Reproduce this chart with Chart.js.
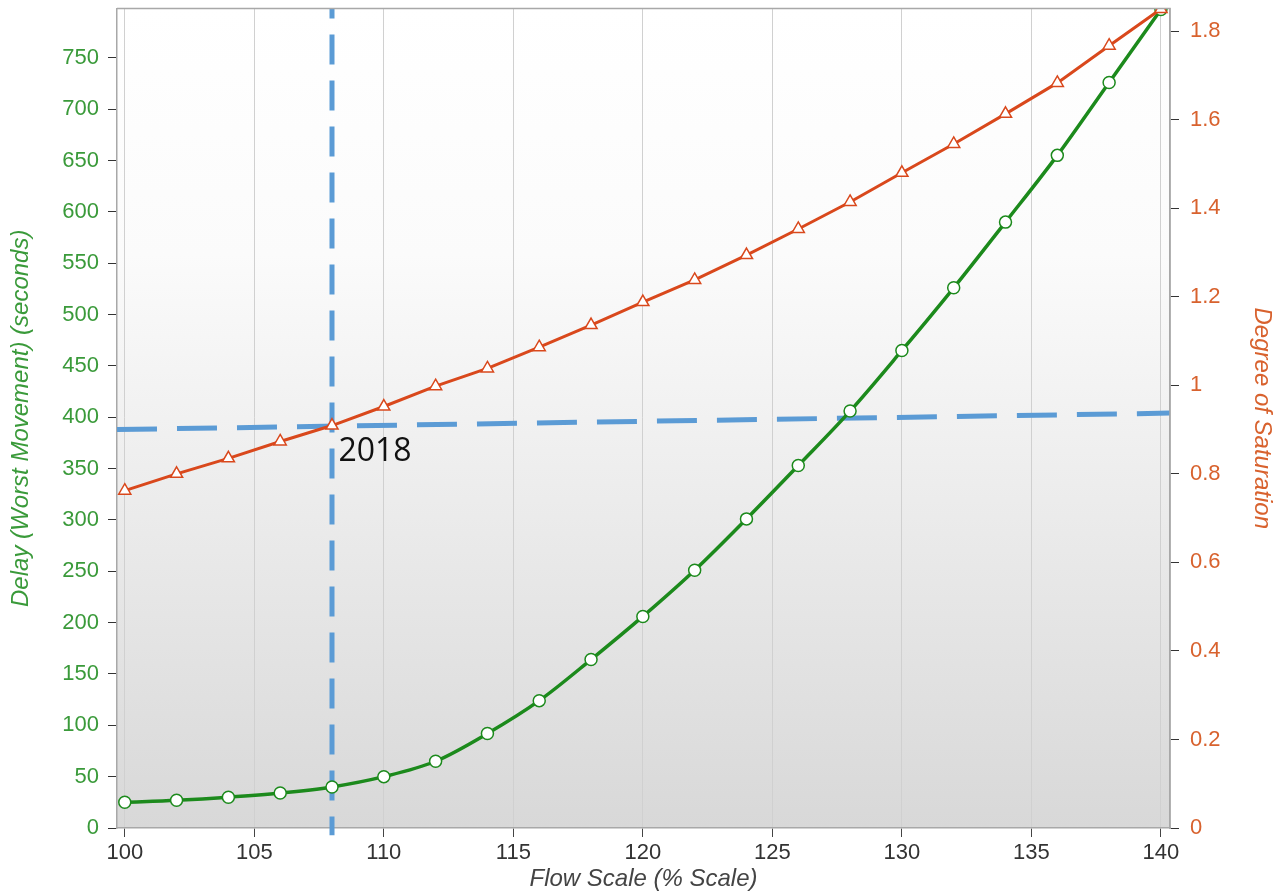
<!DOCTYPE html>
<html><head><meta charset="utf-8">
<script src="https://cdn.jsdelivr.net/npm/chart.js@4/dist/chart.umd.min.js"></script>
<style>html,body{margin:0;padding:0;background:#fff}#wrap{width:1284px;height:895px}</style>
</head><body><div id="wrap"><canvas id="c"></canvas></div>
<script>
// ---- data ----
const flowScale = [100,102,104,106,108,110,112,114,116,118,120,122,124,126,128,130,132,134,136,138,140];
const delaySeconds = [25,27,30,34,40,50,65,92,124,164,206,251,301,353,406,465,526,590,655,726,797];
const degreeOfSaturation = [0.762,0.80,0.835,0.873,0.909,0.952,0.998,1.038,1.086,1.136,1.188,1.238,1.294,1.353,1.414,1.48,1.545,1.613,1.683,1.767,1.85];
const xTickValues = [100,105,110,115,120,125,130,135,140];
const delayTickValues = [0,50,100,150,200,250,300,350,400,450,500,550,600,650,700,750];
const dosTickValues = [0,0.2,0.4,0.6,0.8,1,1.2,1.4,1.6,1.8];
const refYearFlow = 108;          // vertical reference (flow scale)
const refYearLabel = '2018';
const refLineFlow = [99.7, 140.35]; // horizontal reference line ends (flow)
const refLineDelay = [388, 404];    // horizontal reference line (delay, seconds)
const xRange = [99.7, 140.35];
const delayMax = 798;
const dosMax = 1.851;

const GREEN = '#1c8a1c', GREEN_TXT = '#3a9a3a', RED = '#d9481c', RED_TXT = '#d8622e', BLUE = '#5b9bd5';
const FONT = '"Liberation Sans", Arial, sans-serif';

const bgPlugin = {
  id: 'bg',
  beforeDraw(chart) {
    const {ctx, chartArea: a} = chart;
    const g = ctx.createLinearGradient(0, a.top, 0, a.bottom);
    g.addColorStop(0, '#ffffff');
    g.addColorStop(0.3, '#fbfbfb');
    g.addColorStop(1, '#d8d8d8');
    ctx.save(); ctx.fillStyle = g; ctx.fillRect(a.left, a.top, a.right - a.left, a.bottom - a.top); ctx.restore();
  },
  afterDraw(chart) {
    const {ctx, chartArea: a, scales} = chart;
    ctx.save();
    ctx.strokeStyle = '#a8a8a8'; ctx.lineWidth = 1.5;
    ctx.beginPath(); ctx.moveTo(a.left, a.top); ctx.lineTo(a.right, a.top); ctx.lineTo(a.right, a.bottom); ctx.stroke();
    ctx.fillStyle = '#111';
    ctx.font = '32px "Open Sans", "Noto Sans", sans-serif';
    ctx.textBaseline = 'middle'; ctx.textAlign = 'left';
    ctx.fillText(refYearLabel, scales.x.getPixelForValue(refYearFlow + 0.25), scales.y.getPixelForValue(366));
    ctx.restore();
  }
};

function noPadV(s, w) { s.width = w; s.paddingTop = 0; s.paddingBottom = 0; }

new Chart(document.getElementById('c'), {
  type: 'line',
  data: {
    datasets: [
      { label: 'DOS', data: flowScale.map((x,i)=>({x, y: degreeOfSaturation[i]})), yAxisID: 'y1',
        borderColor: RED, borderWidth: 3, pointStyle: 'triangle', pointRadius: 7, pointBackgroundColor: '#fff',
        pointBorderColor: RED, pointBorderWidth: 1.5, order: 1, tension: 0 },
      { label: 'Delay', data: flowScale.map((x,i)=>({x, y: delaySeconds[i]})), yAxisID: 'y',
        borderColor: GREEN, borderWidth: 3.5, pointStyle: 'circle', pointRadius: 6, pointBackgroundColor: '#fff',
        pointBorderColor: GREEN, pointBorderWidth: 1.5, order: 2, cubicInterpolationMode: 'monotone' },
      { label: 'refV', data: [{x: refYearFlow, y: delayMax}, {x: refYearFlow, y: -7}], yAxisID: 'y',
        borderColor: BLUE, borderWidth: 5, borderDash: [30, 16], borderDashOffset: 20, pointRadius: 0, order: 3, clip: false },
      { label: 'refH', data: [{x: refLineFlow[0], y: refLineDelay[0]}, {x: refLineFlow[1], y: refLineDelay[1]}], yAxisID: 'y',
        borderColor: BLUE, borderWidth: 5, borderDash: [40, 20], pointRadius: 0, order: 3 }
    ]
  },
  options: {
    responsive: true, maintainAspectRatio: false, animation: false,
    layout: { padding: { top: 8, left: 0, right: 0, bottom: 0 } },
    plugins: { legend: { display: false }, tooltip: { enabled: false } },
    scales: {
      x: {
        type: 'linear', min: xRange[0], max: xRange[1],
        afterFit(s) { s.height = 67; s.paddingLeft = 0; s.paddingRight = 0; },
        afterBuildTicks(s) { s.ticks = xTickValues.map(v => ({value: v})); },
        ticks: { color: '#333', font: { size: 22, family: FONT }, padding: 3, includeBounds: false },
        grid: { color: '#d0d0d0', lineWidth: 1, tickColor: '#444', tickLength: 9, drawOnChartArea: true },
        border: { color: '#a8a8a8', width: 1.5 },
        title: { display: true, text: 'Flow Scale (% Scale)', color: '#444',
          font: { size: 24, style: 'italic', family: FONT }, padding: { top: 0, bottom: 1 } }
      },
      y: {
        type: 'linear', position: 'left', min: 0, max: delayMax,
        afterFit(s) { noPadV(s, 117); },
        afterBuildTicks(s) { s.ticks = delayTickValues.map(v => ({value: v})); },
        ticks: { color: GREEN_TXT, font: { size: 22, family: FONT }, padding: 9, includeBounds: false },
        grid: { drawOnChartArea: false, tickColor: '#333', tickLength: 9 },
        border: { color: '#a8a8a8', width: 1.5 },
        title: { display: true, text: 'Delay (Worst Movement) (seconds)', color: GREEN_TXT,
          font: { size: 24, style: 'italic', family: FONT }, padding: { top: 7, bottom: 0 } }
      },
      y1: {
        type: 'linear', position: 'right', min: 0, max: dosMax,
        afterFit(s) { noPadV(s, 114); },
        afterBuildTicks(s) { s.ticks = dosTickValues.map(v => ({value: v})); },
        ticks: { color: RED_TXT, font: { size: 22, family: FONT }, padding: 11, includeBounds: false,
          callback: v => String(Number(v.toFixed(1))) },
        grid: { drawOnChartArea: false, tickColor: '#333', tickLength: 9 },
        border: { color: '#a8a8a8', width: 1.5 },
        title: { display: true, text: 'Degree of Saturation', color: RED_TXT,
          font: { size: 24, style: 'italic', family: FONT }, padding: { top: 8, bottom: 0 } }
      }
    }
  },
  plugins: [bgPlugin]
});
</script></body></html>
